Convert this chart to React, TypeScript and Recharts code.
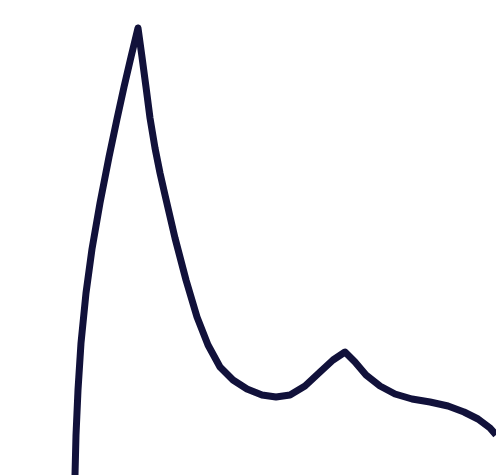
import React from "react";
import { LineChart, Line, XAxis, YAxis } from "recharts";

// horizontal positions along the curve
const xs = [
  75, 76, 78, 81, 86, 92, 100, 109, 117, 124, 131, 138, 142, 146, 150, 155,
  160, 165, 175, 186, 197, 208, 220, 233, 247, 262, 276, 290, 305, 320, 333,
  345, 355, 366, 380, 395, 412, 430, 448, 464, 478, 490, 496,
];
// heights of the curve (measured up from the bottom)
const heights = [
  0, 40, 85, 132, 182, 226, 272, 318, 356, 388, 418, 447, 418, 388, 357, 327,
  302, 280, 237, 195, 158, 130, 108, 95, 86, 80, 78, 80, 89, 103, 115, 123,
  113, 100, 89, 81, 76, 73, 69, 63, 56, 47, 40,
];

const data = xs.map((x, i) => ({ x, v: heights[i] }));

export default function App() {
  return (
    <div style={{ position: "fixed", left: 0, top: 0, width: 496, height: 475, background: "#fff" }}>
      <LineChart width={496} height={475} data={data} margin={{ top: 0, right: 0, left: 0, bottom: 0 }}>
        <XAxis dataKey="x" type="number" domain={[0, 496]} hide />
        <YAxis type="number" domain={[0, 475]} hide />
        <Line
          type="linear"
          dataKey="v"
          stroke="#11113a"
          strokeWidth={7}
          strokeLinejoin="round"
          strokeLinecap="butt"
          dot={false}
          activeDot={false}
          isAnimationActive={false}
        />
      </LineChart>
    </div>
  );
}
